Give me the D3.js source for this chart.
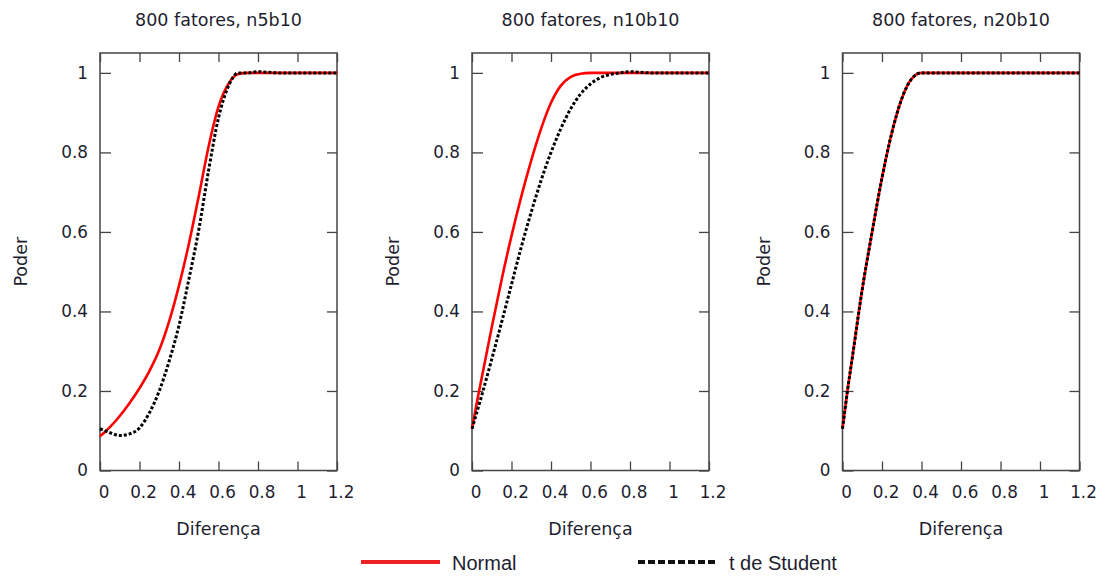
<!DOCTYPE html>
<html>
<head>
<meta charset="utf-8">
<script src="https://cdn.jsdelivr.net/npm/d3@7"></script>
<style>
  body { margin: 0; background: #fff; }
  svg text { font-family: "DejaVu Sans", Verdana, sans-serif; fill: #1e1e30; }
</style>
</head>
<body>
<div class="chart"></div>
<script>
// shared x grid (Diferença)
const X = [0, 0.025, 0.05, 0.1, 0.15, 0.2, 0.25, 0.3, 0.35, 0.4, 0.45, 0.5, 0.55, 0.6, 0.65, 0.7, 0.75, 0.8, 0.9, 1.0, 1.1, 1.2];

const TITLES = ["800 fatores, n5b10", "800 fatores, n10b10", "800 fatores, n20b10"];

// power (Poder)
const NORMAL_N5  = [0.086, 0.097, 0.109, 0.137, 0.17, 0.207, 0.25, 0.303, 0.375, 0.465, 0.57, 0.69, 0.815, 0.915, 0.972, 0.997, 1, 1, 1, 1, 1, 1];
const STUDENT_N5 = [0.105, 0.1, 0.095, 0.088, 0.092, 0.107, 0.145, 0.2, 0.275, 0.365, 0.481, 0.605, 0.755, 0.887, 0.966, 1, 1, 1.003, 1, 1, 1, 1];

const NORMAL_N10  = [0.105, 0.172, 0.235, 0.36, 0.48, 0.59, 0.69, 0.78, 0.86, 0.925, 0.968, 0.99, 0.998, 1, 1, 1, 1, 1, 1, 1, 1, 1];
const STUDENT_N10 = [0.105, 0.147, 0.19, 0.28, 0.373, 0.468, 0.563, 0.65, 0.73, 0.8, 0.86, 0.91, 0.947, 0.972, 0.988, 0.996, 1, 1.003, 1, 1, 1, 1];

const NORMAL_N20  = [0.105, 0.2, 0.285, 0.456, 0.6, 0.736, 0.85, 0.935, 0.985, 1, 1, 1, 1, 1, 1, 1, 1, 1, 1, 1, 1, 1];
const STUDENT_N20 = [0.105, 0.2, 0.285, 0.456, 0.6, 0.736, 0.85, 0.935, 0.985, 1, 1, 1, 1, 1, 1, 1, 1, 1, 1, 1, 1, 1];

const X_TICKS = [0, 0.2, 0.4, 0.6, 0.8, 1, 1.2];
const Y_TICKS = [0, 0.2, 0.4, 0.6, 0.8, 1];

const LEGEND = ["Normal", "t de Student"];

const panels = [
  {title: TITLES[0], normal: NORMAL_N5, student: STUDENT_N5},
  {title: TITLES[1], normal: NORMAL_N10, student: STUDENT_N10},
  {title: TITLES[2], normal: NORMAL_N20, student: STUDENT_N20},
];

const W = 1105, H = 576;
const lefts = [100, 472, 842.5];
const pw = 237, plotTop = 53, plotBottom = 470.5;
const frameColor = "#444";

const svg = d3.select(".chart").append("svg")
  .attr("width", W).attr("height", H);

svg.append("rect").attr("width", W).attr("height", H).attr("fill", "#fff");

panels.forEach(function(p, i) {
  const ph = plotBottom - plotTop;
  const x = d3.scaleLinear().domain([0, 1.2]).range([0, pw]);
  const y = d3.scaleLinear().domain([0, 1.05]).range([ph, 0]);

  const g = svg.append("g").attr("transform", "translate(" + lefts[i] + "," + plotTop + ")");

  // title
  g.append("text")
    .attr("x", pw / 2).attr("y", 25.5 - plotTop)
    .attr("text-anchor", "middle")
    .style("font-size", "17.5px")
    .text(p.title);

  // axes (ticks pointing inward, mirrored on top/right)
  const bottomAxis = g.append("g").attr("transform", "translate(0," + ph + ")")
    .call(d3.axisBottom(x).tickValues(X_TICKS).tickSize(-9).tickFormat(d3.format("~g")));
  const topAxis = g.append("g")
    .call(d3.axisTop(x).tickValues(X_TICKS).tickSize(-9).tickFormat(""));
  const leftAxis = g.append("g")
    .call(d3.axisLeft(y).tickValues(Y_TICKS).tickSize(-11).tickFormat(d3.format("~g")));
  const rightAxis = g.append("g").attr("transform", "translate(" + pw + ",0)")
    .call(d3.axisRight(y).tickValues(Y_TICKS).tickSize(-10).tickFormat(""));

  [bottomAxis, topAxis, leftAxis, rightAxis].forEach(function(a) {
    a.select(".domain").remove();
    a.selectAll(".tick line").attr("stroke", frameColor).attr("stroke-width", 1.3);
  });
  bottomAxis.selectAll(".tick text")
    .attr("y", 16).attr("dx", 3.5)
    .style("font-size", "16.8px").attr("fill", null);
  leftAxis.selectAll(".tick text")
    .attr("x", -12)
    .style("font-size", "16.8px").attr("fill", null);

  // frame
  g.append("rect")
    .attr("width", pw).attr("height", ph)
    .attr("fill", "none").attr("stroke", frameColor).attr("stroke-width", 1.5);

  const line = d3.line()
    .x(function(d, k) { return x(X[k]); })
    .y(function(d) { return y(d); })
    .curve(d3.curveMonotoneX);

  g.append("path")
    .datum(p.normal)
    .attr("d", line)
    .attr("fill", "none")
    .attr("stroke", "#ff0000")
    .attr("stroke-width", 2.6);

  g.append("path")
    .datum(p.student)
    .attr("d", line)
    .attr("fill", "none")
    .attr("stroke", "#000")
    .attr("stroke-width", 3)
    .attr("stroke-dasharray", "3,2");

  // axis labels
  g.append("text")
    .attr("transform", "translate(" + (-79) + "," + (ph / 2) + ") rotate(-90)")
    .attr("text-anchor", "middle")
    .attr("dy", "0.35em")
    .style("font-size", "17.5px")
    .text("Poder");

  g.append("text")
    .attr("x", pw / 2).attr("y", 534.5 - plotTop)
    .attr("text-anchor", "middle")
    .style("font-size", "17.5px")
    .text("Diferença");
});

// legend
const legend = svg.append("g");
legend.append("line")
  .attr("x1", 361).attr("x2", 440).attr("y1", 562).attr("y2", 562)
  .attr("stroke", "#ee2222").attr("stroke-width", 4);
legend.append("text")
  .attr("x", 452).attr("y", 570)
  .style("font-family", "'Liberation Sans', Arial, sans-serif")
  .style("font-size", "20px")
  .text(LEGEND[0]);
legend.append("line")
  .attr("x1", 638).attr("x2", 718).attr("y1", 562).attr("y2", 562)
  .attr("stroke", "#111").attr("stroke-width", 4)
  .attr("stroke-dasharray", "7,3");
legend.append("text")
  .attr("x", 729).attr("y", 570)
  .style("font-family", "'Liberation Sans', Arial, sans-serif")
  .style("font-size", "20px")
  .text(LEGEND[1]);
</script>
</body>
</html>
